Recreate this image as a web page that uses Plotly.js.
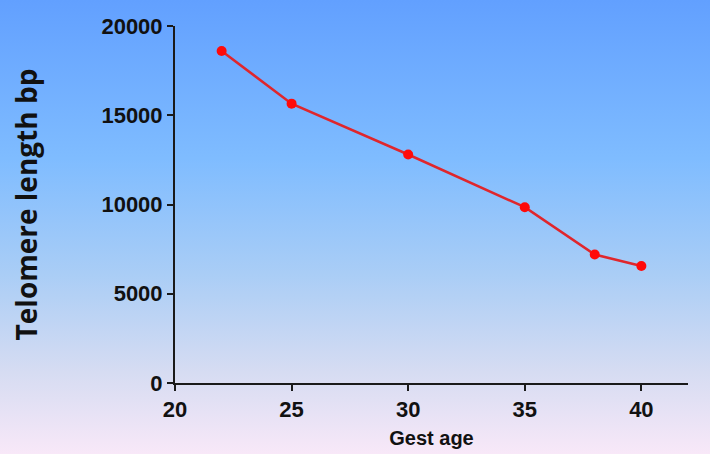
<!DOCTYPE html>
<html>
<head>
<meta charset="utf-8">
<script src="https://cdn.plot.ly/plotly-3.0.1.min.js"></script>
<style>
  html, body { margin: 0; padding: 0; }
  body {
    width: 710px; height: 454px; overflow: hidden;
    background: linear-gradient(to bottom, #62a0ff 0%, #7fbcff 35%, #a9cdf6 60%, #d6dcf2 82%, #f8e8f8 100%);
  }
  #plot { width: 710px; height: 454px; }
</style>
</head>
<body>
<div id="plot"></div>
<script>
var gestAge = [22, 25, 30, 35, 38, 40];
var telomereBp = [18600, 15650, 12800, 9850, 7200, 6550];
var xTicks = [20, 25, 30, 35, 40];
var yTicks = [0, 5000, 10000, 15000, 20000];
var yTickText = ['0', '5000', '10000', '15000', '20000'];

var trace1 = {
  x: gestAge,
  y: telomereBp,
  type: 'scatter',
  mode: 'lines+markers',
  line: { color: '#e0262c', width: 2.5 },
  marker: { color: '#ff0a0a', size: 10 },
  hoverinfo: 'x+y'
};

var tickFont = { family: 'Liberation Sans, Arial, sans-serif', size: 22, color: '#111', weight: 'bold' };

var layout = {
  width: 710,
  height: 454,
  margin: { l: 175, r: 22, t: 26, b: 71 },
  paper_bgcolor: 'rgba(0,0,0,0)',
  plot_bgcolor: 'rgba(0,0,0,0)',
  showlegend: false,
  xaxis: {
    range: [20, 42],
    tickvals: xTicks,
    showgrid: false,
    zeroline: false,
    showline: true,
    linecolor: '#1a1a1a',
    linewidth: 2,
    ticks: 'outside',
    ticklen: 6,
    tickwidth: 2,
    tickcolor: '#1a1a1a',
    tickfont: tickFont,
    title: { text: 'Gest age', standoff: 10,
      font: { family: 'Liberation Sans, Arial, sans-serif', size: 20, color: '#111', weight: 'bold' } }
  },
  yaxis: {
    range: [0, 20000],
    tickvals: yTicks,
    ticktext: yTickText,
    showgrid: false,
    zeroline: false,
    showline: true,
    linecolor: '#1a1a1a',
    linewidth: 2,
    ticks: 'outside',
    ticklen: 6,
    tickwidth: 2,
    tickcolor: '#1a1a1a',
    tickfont: tickFont,
    title: { text: 'Telomere length bp', standoff: 56,
      font: { family: 'Open Sans, sans-serif', size: 28, color: '#111', weight: 'bold' } }
  }
};

Plotly.newPlot('plot', [trace1], layout, { displayModeBar: false, staticPlot: true });
</script>
</body>
</html>
